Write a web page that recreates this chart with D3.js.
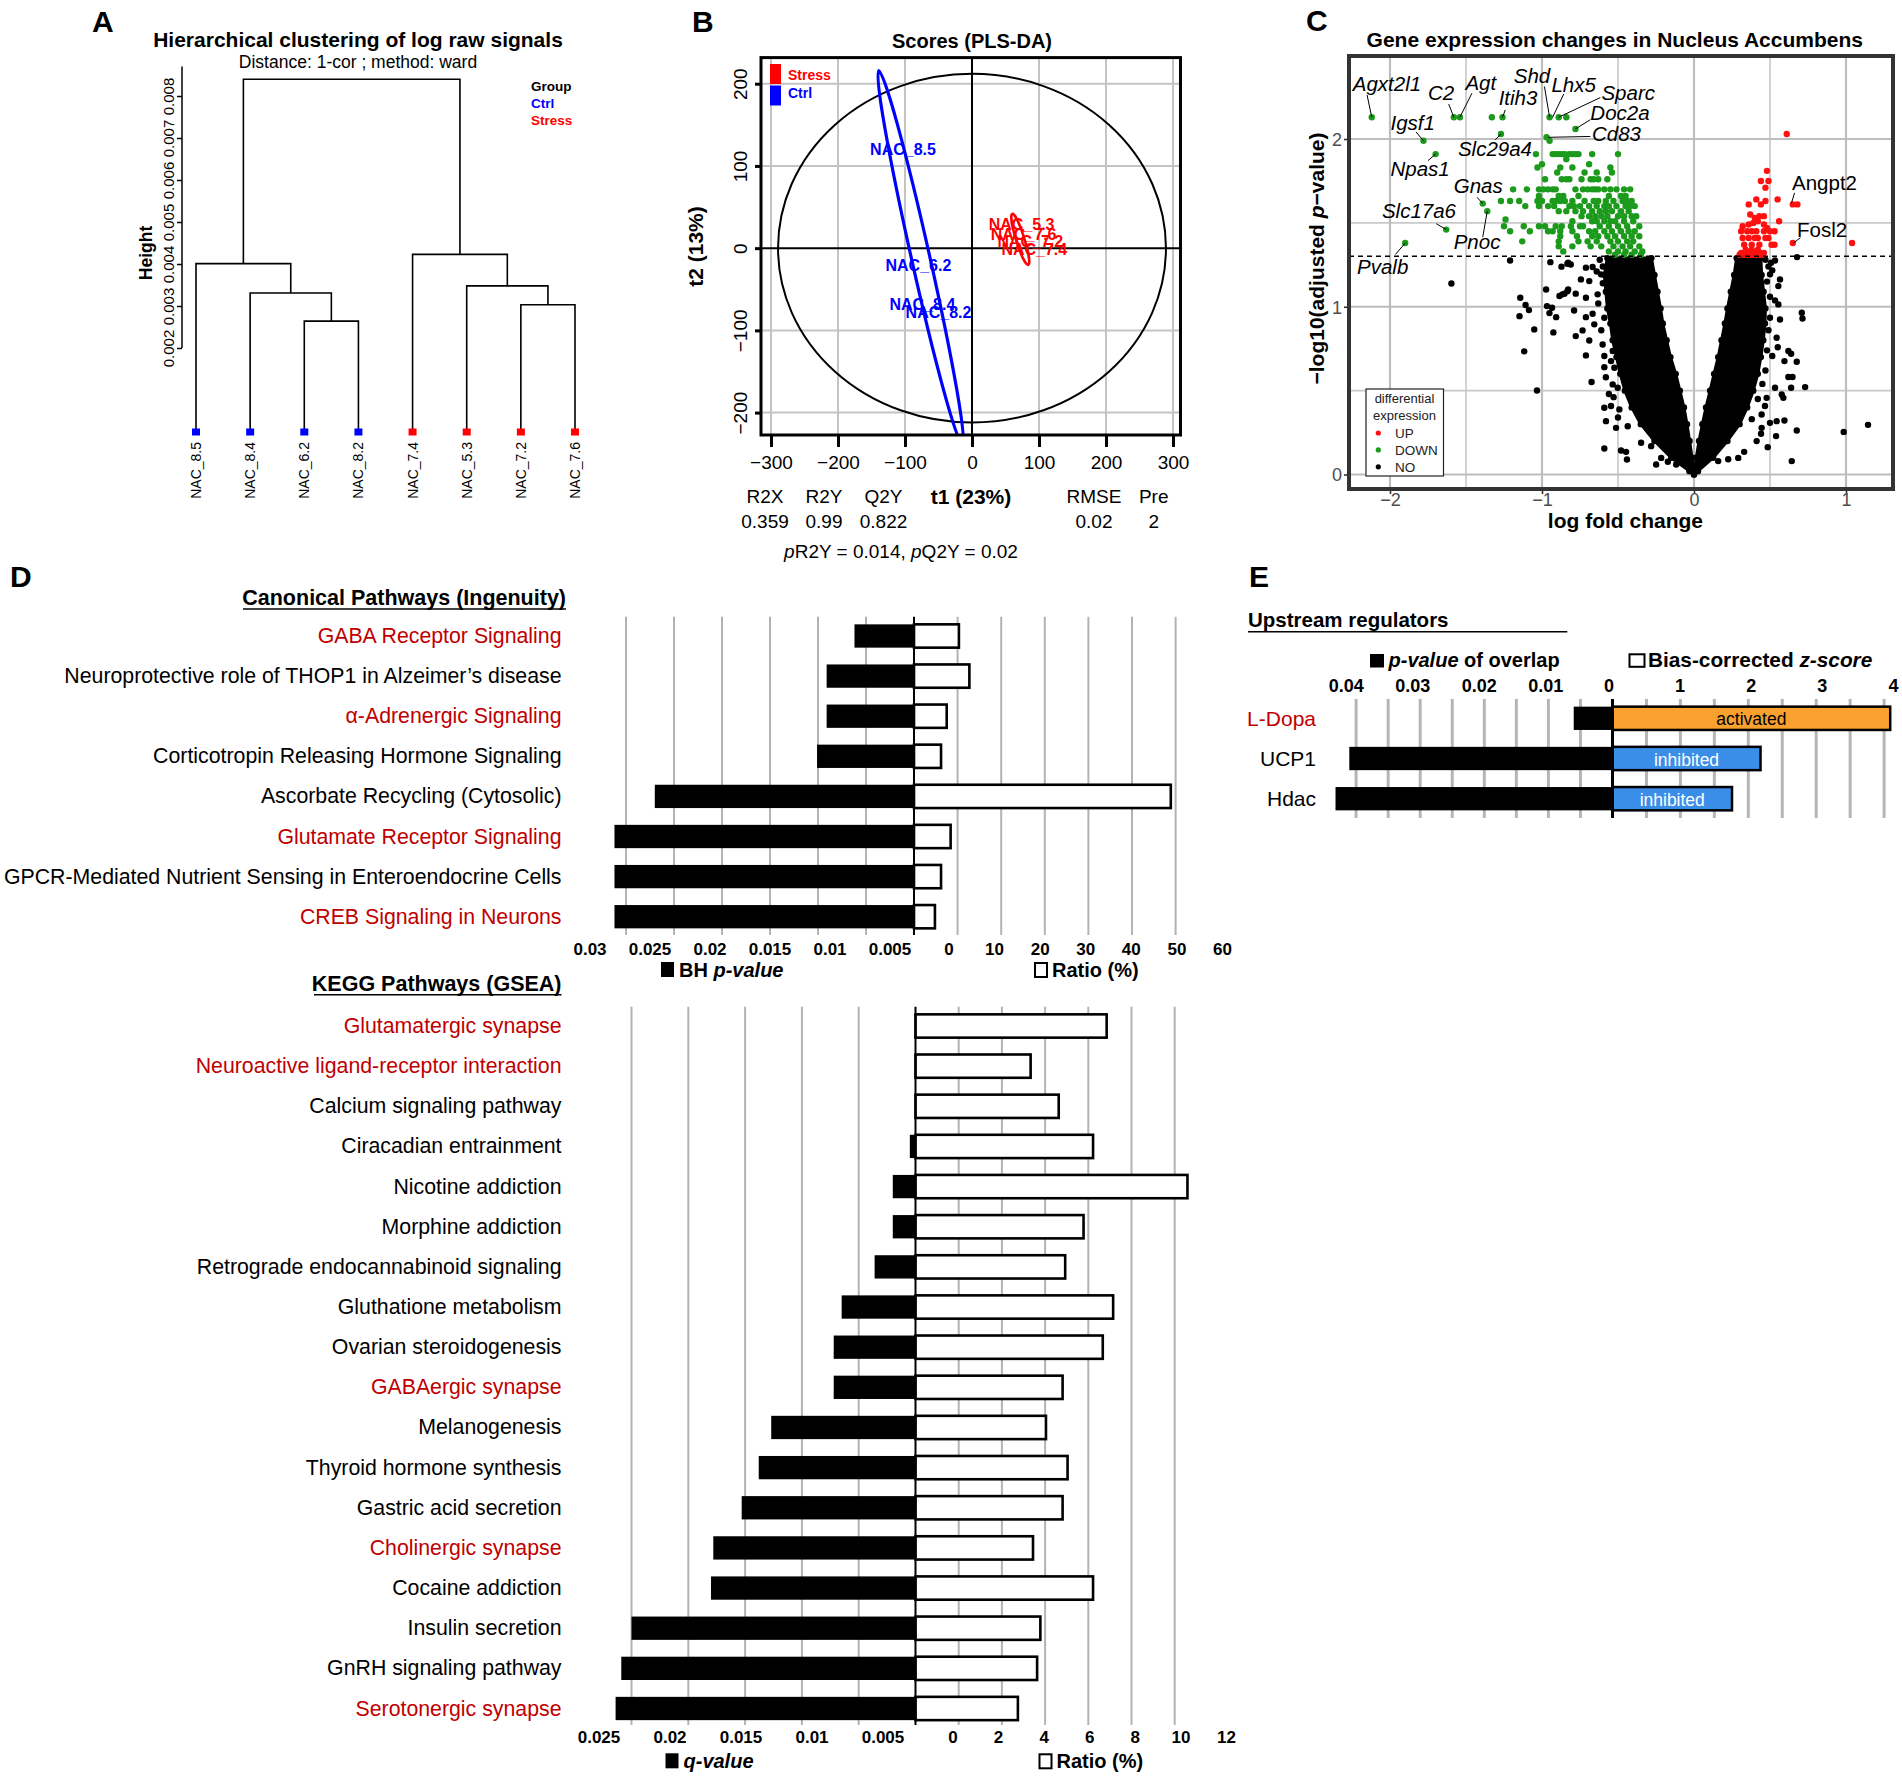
<!DOCTYPE html>
<html>
<head>
<meta charset="utf-8">
<title>Figure</title>
<script src="https://cdn.jsdelivr.net/npm/d3@7/dist/d3.min.js"></script>
<style>
html,body{margin:0;padding:0;background:#ffffff;}
svg{display:block;}
text{font-family:"Liberation Sans",Arial,Helvetica,sans-serif;}
</style>
</head>
<body>
<svg id="fig" width="1902" height="1781" viewBox="0 0 1902 1781"></svg>
<script>
// ================= DATA =================
// ---- Panel A : dendrogram ----
const dendroLeaves = ["NAC_8.5","NAC_8.4","NAC_6.2","NAC_8.2","NAC_7.4","NAC_5.3","NAC_7.2","NAC_7.6"];
const dendroGroups = ["Ctrl","Ctrl","Ctrl","Ctrl","Stress","Stress","Stress","Stress"];
const dendroMerges = [            // [left, right, height]; merges named m1..m7 in order
  ["NAC_6.2","NAC_8.2",0.00264],
  ["NAC_8.4","m1",0.00331],
  ["NAC_8.5","m2",0.00401],
  ["NAC_7.2","NAC_7.6",0.00303],
  ["NAC_5.3","m4",0.00348],
  ["NAC_7.4","m5",0.00423],
  ["m3","m6",0.00840]
];
const dendroTicks = [0.002,0.003,0.004,0.005,0.006,0.007,0.008];
const groupNames = ["Ctrl","Stress"];

// ---- Panel B : PLS-DA scores ----
const plsSamples = ["NAC_8.5","NAC_6.2","NAC_8.4","NAC_8.2","NAC_5.3","NAC_7.6","NAC_7.2","NAC_7.4"];
const plsGroup   = ["Ctrl","Ctrl","Ctrl","Ctrl","Stress","Stress","Stress","Stress"];
const plsT1      = [-103,-80,-74,-50,74,77,87,93];
const plsT2      = [119.5,-20.7,-68,-78,29,17,8,-2];
const plsTicksX  = [-300,-200,-100,0,100,200,300];
const plsTicksY  = [-200,-100,0,100,200];
const plsEllipseCtrl   = {center:[-76.6,-11.8], top:[-139.2,215.8], halfWidth:14};
const plsEllipseStress = {center:[72,10.7], top:[60.1,41.7], halfWidth:6.5};
const plsHotelling = [289.5,212];
const plsStatNames  = ["R2X","R2Y","Q2Y","RMSE","Pre"];
const plsStatValues = ["0.359","0.99","0.822","0.02","2"];

// ---- Panel C : volcano ----
const volcanoXTicks = [-2,-1,0,1];
const volcanoYTicks = [0,1,2];
const volcanoThreshold = 1.301;
const volcanoGreenRows = [
  [2.13,[-2.12,-1.58,-1.54,-1.33,-1.26,-0.95,-0.89,-0.84]],
  [2.06,[-0.78]],[2.03,[-1.27]],[2.01,[-0.97]],[1.99,[-1.78,-0.95]],
  [1.91,[-1.70,-1.04,-0.93,-0.91,-0.89,-0.87,-0.85,-0.82,-0.80,-0.78,-0.76,-0.67,-0.50]],
  [1.88,[-0.84]],
  [1.85,[-1.00,-0.69]],
  [1.83,[-1.03,-0.88,-0.80,-0.55]],
  [1.80,[-0.90,-0.72,-0.64,-0.54]],
  [1.76,[-0.98,-0.87,-0.84,-0.82,-0.74,-0.68,-0.66,-0.63,-0.57]],
  [1.70,[-1.19,-1.10,-1.02,-0.99,-0.96,-0.93,-0.91,-0.78,-0.73,-0.70,-0.67,-0.65,-0.63,-0.59,-0.55,-0.51,-0.46,-0.42]],
  [1.66,[-1.02,-0.89,-0.86,-0.76,-0.56,-0.48,-0.45]],
  [1.63,[-1.27,-1.21,-1.15,-1.03,-1.00,-0.93,-0.91,-0.88,-0.85,-0.80,-0.72,-0.66,-0.63,-0.58,-0.53,-0.47,-0.44,-0.41]],
  [1.615,[-1.39]],
  [1.60,[-1.11,-1.02,-0.96,-0.92,-0.82,-0.79,-0.75,-0.69,-0.64,-0.59,-0.56,-0.51,-0.45,-0.42,-0.39]],
  [1.57,[-1.36,-0.89,-0.84,-0.78,-0.73,-0.67,-0.62,-0.58,-0.54,-0.48,-0.43]],
  [1.54,[-0.74,-0.69,-0.65,-0.61,-0.57,-0.50,-0.46,-0.41,-0.38]],
  [1.52,[-1.24]],
  [1.51,[-0.80,-0.67,-0.64,-0.59,-0.55,-0.52,-0.46,-0.40]],
  [1.48,[-1.25,-1.12,-1.02,-0.98,-0.91,-0.87,-0.81,-0.75,-0.73,-0.62,-0.56,-0.50,-0.44,-0.36]],
  [1.46,[-1.63]],
  [1.45,[-1.21,-1.08,-0.96,-0.93,-0.88,-0.80,-0.69,-0.65,-0.59,-0.54,-0.48,-0.43,-0.39]],
  [1.42,[-0.88,-0.77,-0.67,-0.63,-0.57,-0.52,-0.46,-0.41,-0.36]],
  [1.39,[-1.13,-0.89,-0.76,-0.70,-0.64,-0.55,-0.50,-0.44,-0.40]],
  [1.38,[-1.90]],
  [1.36,[-0.89,-0.80,-0.68,-0.61,-0.53,-0.47,-0.42,-0.36]],
  [1.33,[-0.86,-0.56,-0.50,-0.45,-0.39,-0.34]],
  [1.31,[-0.52,-0.46,-0.41,-0.35]]
];
const volcanoRedRows = [
  [2.03,[0.61]],[1.81,[0.48]],[1.75,[0.44,0.49]],[1.71,[0.47]],
  [1.64,[0.41,0.55]],[1.63,[0.47]],[1.61,[0.36,0.44,0.65,0.68]],
  [1.55,[0.37]],[1.54,[0.43,0.46]],[1.53,[0.40]],[1.51,[0.42,0.56]],[1.50,[0.39]],
  [1.49,[0.36,0.46]],[1.48,[0.32]],[1.47,[0.48]],
  [1.45,[0.31,0.35,0.38,0.41,0.46,0.50,0.53]],
  [1.41,[0.32,0.36,0.40,0.42,0.47,0.49]],
  [1.38,[0.65,1.04]],
  [1.37,[0.33,0.38,0.43,0.51,0.53]],
  [1.34,[0.34,0.38,0.42]],
  [1.32,[0.31,0.36,0.40,0.44,0.46]],
  [1.31,[0.30,0.33,0.35,0.37,0.39,0.41,0.43,0.45]]
];
const volcanoBlack = [
  [-0.833,1.256],[-0.811,1.252],[-0.711,1.233],[-0.667,1.237],[-0.744,1.163],[-0.689,1.153],[-0.612,1.193],
  [-0.833,1.093],[-0.778,1.078],[-0.866,1.074],[-0.711,1.054],[-0.634,1.074],[-0.789,0.978],[-0.667,0.958],
  [-0.711,0.938],[-0.590,0.934],[-0.733,0.859],[-0.656,0.895],[-0.778,0.825],[-0.689,0.799],[-0.601,0.775],
  [-0.535,0.736],[-0.711,0.710],[-0.590,0.706],[-0.480,0.692],[-0.546,0.676],[-0.590,0.640],[-0.524,0.636],
  [-0.674,0.551],[-0.535,0.537],[-0.502,0.517],[-0.529,0.461],[-0.590,0.398],[-0.546,0.408],[-0.491,0.388],
  [-0.579,0.318],[-0.513,0.278],[-0.436,0.288],[-0.590,0.155],[-0.480,0.143],[-0.447,0.135],[-0.441,0.089],
  [-0.348,0.189],[-0.282,0.169],[-0.249,0.060],[-0.216,0.099],[-0.172,0.076],[-0.117,0.060],
  [-0.62,1.28],[-0.60,1.24],[-0.64,1.21],[-0.60,1.14],[-0.63,1.02],[-0.61,0.86],[-0.58,0.58],[-0.56,0.48],[-0.50,0.34],
  [-1.21,1.276],[-1.596,1.139],[-0.945,1.266],[-0.872,1.239],[-0.828,1.262],[-1.143,1.054],[-1.108,1.010],
  [-1.086,0.980],[-1.148,0.944],[-1.051,0.865],[-1.117,0.734],[-1.033,0.501],[-0.973,1.103],[-0.967,1.004],
  [-0.934,0.994],[-0.951,0.962],[-0.907,0.938],[-0.925,0.847],[-0.885,1.064],[-0.852,1.078],[-0.828,1.103],
  [0.507,1.262],[0.533,1.276],[0.500,1.193],[0.515,1.217],[0.566,1.163],[0.555,1.123],[0.533,1.038],
  [0.566,0.924],[0.500,0.934],[0.555,1.014],[0.709,0.964],[0.714,0.930],[0.544,0.815],[0.551,0.759],
  [0.621,0.736],[0.639,0.720],[0.676,0.672],[0.595,0.676],[0.515,0.706],[0.621,0.581],[0.648,0.581],
  [0.731,0.521],[0.639,0.517],[0.577,0.477],[0.588,0.457],[0.533,0.517],[0.595,0.322],[0.544,0.318],
  [0.500,0.308],[0.445,0.278],[0.441,0.243],[0.412,0.199],[0.485,0.163],[0.540,0.229],[0.676,0.262],
  [0.643,0.080],[0.985,0.254],[1.145,0.296],[0.678,1.296],[0.445,0.358],[0.467,0.408],[0.478,0.457],
  [0.225,0.091],[0.291,0.099],[0.330,0.135],[0.159,0.080],
  [0.47,1.28],[0.49,1.24],[0.48,1.15],[0.50,1.06],[0.49,0.86],[0.48,0.74],[0.47,0.62],[0.45,0.54],[0.42,0.45],[0.38,0.33]
];
// dense core of non-significant genes (outline of the solid V)
const vLeftOuter  = [[-0.57,1.29],[-0.59,1.19],[-0.58,1.09],[-0.57,0.99],[-0.55,0.90],[-0.535,0.80],[-0.51,0.70],[-0.485,0.60],[-0.455,0.50],[-0.41,0.40],[-0.35,0.30],[-0.26,0.20],[-0.15,0.10],[-0.03,0.02],[0,0]];
const vLeftInner  = [[-0.28,1.29],[-0.26,1.19],[-0.24,1.09],[-0.22,0.99],[-0.205,0.90],[-0.18,0.80],[-0.155,0.70],[-0.12,0.60],[-0.093,0.50],[-0.066,0.40],[-0.046,0.30],[-0.029,0.20],[-0.013,0.10]];
const vRightInner = [[0.28,1.29],[0.264,1.19],[0.242,1.09],[0.22,0.99],[0.203,0.90],[0.181,0.80],[0.159,0.70],[0.132,0.60],[0.106,0.50],[0.079,0.40],[0.055,0.30],[0.033,0.20],[0.015,0.10]];
const vRightOuter = [[0.44,1.29],[0.445,1.19],[0.458,1.09],[0.47,0.99],[0.467,0.90],[0.456,0.80],[0.44,0.70],[0.42,0.60],[0.39,0.50],[0.35,0.40],[0.30,0.30],[0.22,0.20],[0.126,0.10],[0.026,0.02],[0,0]];
// gene labels: [name, labelX, labelY, lineFromX, lineFromY, pointX, pointY, italic]
const volcanoLabels = [
  ["Agxt2l1",-2.245,2.287,-2.151,2.263,-2.12,2.13,true],
  ["C2",-1.750,2.234,-1.614,2.208,-1.58,2.13,true],
  ["Agt",-1.504,2.293,-1.461,2.273,-1.54,2.13,true],
  ["Itih3",-1.285,2.204,-1.241,2.174,-1.26,2.13,true],
  ["Shd",-1.186,2.333,-0.984,2.313,-0.95,2.13,true],
  ["Lhx5",-0.938,2.279,-0.857,2.268,-0.93,2.13,true],
  ["Sparc",-0.609,2.234,-0.616,2.247,-0.89,2.13,true],
  ["Doc2a",-0.682,2.115,-0.682,2.115,-0.78,2.06,true],
  ["Cd83",-0.671,1.990,-0.682,2.015,-0.96,2.01,true],
  ["Igsf1",-1.997,2.055,-1.829,2.042,-1.78,1.99,true],
  ["Slc29a4",-1.553,1.897,-1.307,1.996,-1.27,2.03,true],
  ["Npas1",-1.997,1.778,-1.750,1.871,-1.70,1.91,true],
  ["Gnas",-1.581,1.679,-1.428,1.653,-1.39,1.615,true],
  ["Pnoc",-1.581,1.342,-1.390,1.415,-1.36,1.57,true],
  ["Slc17a6",-2.053,1.530,-1.695,1.495,-1.63,1.46,true],
  ["Pvalb",-2.217,1.193,-1.964,1.312,-1.90,1.38,true],
  ["Angpt2",0.645,1.694,0.662,1.679,0.64,1.615,false],
  ["Fosl2",0.678,1.417,0.700,1.411,0.655,1.38,false]
];
const volcanoLegend = ["UP","DOWN","NO"];

// ---- Panel D : pathways ----
const canonicalPathways = ["GABA Receptor Signaling","Neuroprotective role of THOP1 in Alzeimer’s disease","α-Adrenergic Signaling","Corticotropin Releasing Hormone Signaling","Ascorbate Recycling (Cytosolic)","Glutamate Receptor Signaling","GPCR-Mediated Nutrient Sensing in Enteroendocrine Cells","CREB Signaling in Neurons"];
const canonicalPvalue = [0.0062,0.0091,0.0091,0.0101,0.0270,0.0312,0.0312,0.0312];
const canonicalRatio  = [10.3,12.7,7.5,6.2,58.9,8.4,6.2,4.8];
const canonicalNeuro  = [true,false,true,false,false,true,false,true];
const canonicalPTicks = [0.03,0.025,0.02,0.015,0.01,0.005];
const canonicalRTicks = [0,10,20,30,40,50,60];

const keggPathways = ["Glutamatergic synapse","Neuroactive ligand-receptor interaction","Calcium signaling pathway","Ciracadian entrainment","Nicotine addiction","Morphine addiction","Retrograde endocannabinoid signaling","Gluthatione metabolism","Ovarian steroidogenesis","GABAergic synapse","Melanogenesis","Thyroid hormone synthesis","Gastric acid secretion","Cholinergic synapse","Cocaine addiction","Insulin secretion","GnRH signaling pathway","Serotonergic synapse"];
const keggQvalue = [0,0,0,0.0005,0.0020,0.0020,0.0036,0.0065,0.0072,0.0072,0.0127,0.0138,0.0153,0.0178,0.0180,0.0250,0.0259,0.0264];
const keggRatio  = [8.85,5.33,6.63,8.22,12.59,7.78,6.93,9.15,8.67,6.81,6.04,7.04,6.81,5.44,8.22,5.78,5.63,4.74];
const keggNeuro  = [true,true,false,false,false,false,false,false,false,true,false,false,false,true,false,false,false,true];
const keggQTicks = [0.025,0.02,0.015,0.01,0.005];
const keggRTicks = [0,2,4,6,8,10,12];

// ---- Panel E : upstream regulators ----
const regulators   = ["L-Dopa","UCP1","Hdac"];
const regPvalue    = [0.00605,0.04106,0.04321];
const regZscore    = [4.09,2.18,1.76];
const regState     = ["activated","inhibited","inhibited"];
const regPTicks    = [0.04,0.03,0.02,0.01];
const regZTicks    = [0,1,2,3,4];

// ================= DRAW =================
const svg = d3.select("#fig");
svg.append("rect").attr("width",1902).attr("height",1781).attr("fill","#ffffff");
const RED_TXT = "#c00000";

function T(parent, x, y, str, size, opt) {
  opt = opt || {};
  const t = parent.append("text").attr("x", x).attr("y", y).attr("font-size", size).text(str);
  if (opt.weight) t.attr("font-weight", opt.weight);
  if (opt.anchor) t.attr("text-anchor", opt.anchor);
  t.attr("fill", opt.fill || "#000");
  if (opt.style) t.attr("font-style", opt.style);
  if (opt.baseline) t.attr("dominant-baseline", opt.baseline);
  return t;
}
function RT(parent, x, y, str, size, opt) { // text rotated -90 around (x,y)
  const g = parent.append("g").attr("transform", `translate(${x},${y}) rotate(-90)`);
  return T(g, 0, 0, str, size, opt);
}

// ---------- Panel A ----------
(function(){
  const g = svg.append("g");
  T(g, 92, 32, "A", 30, {weight:"bold"});
  T(g, 358, 47, "Hierarchical clustering of log raw signals", 21, {weight:"bold", anchor:"middle"});
  T(g, 358, 68, "Distance: 1-cor ; method: ward", 17.5, {anchor:"middle"});
  const y = d3.scaleLinear().domain([0, 0.008]).range([432, 96]);
  const x = d3.scalePoint().domain(dendroLeaves).range([196, 575]);
  const ax = g.append("g").attr("transform","translate(182,0)")
    .call(d3.axisLeft(y).tickValues(dendroTicks).tickSize(5).tickFormat(d3.format(".3f")));
  ax.select(".domain").remove();
  ax.append("line").attr("y1", y(0.002)).attr("y2", y(0.0087)).attr("stroke","#000").attr("stroke-width",1.5);
  ax.selectAll(".tick line").attr("stroke","#000").attr("stroke-width",1.5);
  ax.selectAll(".tick text").attr("transform","rotate(-90)").attr("x",0).attr("y",-8).attr("dy",null)
    .attr("text-anchor","middle").attr("font-size",15).attr("fill","#000");
  RT(g, 152, 253, "Height", 17.5, {weight:"bold", anchor:"middle"});
  const pos = {};
  dendroLeaves.forEach(l => pos[l] = {x: x(l), h: 0});
  dendroMerges.forEach((m, i) => {
    const a = pos[m[0]], b = pos[m[1]];
    pos["m" + (i + 1)] = {x: (a.x + b.x) / 2, h: m[2]};
    g.append("path")
      .attr("d", `M${a.x},${y(a.h)}V${y(m[2])}H${b.x}V${y(b.h)}`)
      .attr("fill","none").attr("stroke","#000").attr("stroke-width",1.6);
  });
  const col = d3.scaleOrdinal().domain(groupNames).range(["#0000ff","#ff0000"]);
  dendroLeaves.forEach((l, i) => {
    g.append("rect").attr("x", x(l) - 4).attr("y", y(0) - 3.5).attr("width", 8).attr("height", 7)
      .attr("fill", col(dendroGroups[i]));
    RT(g, x(l) + 5, 442, l, 14, {anchor:"end"});
  });
  T(g, 531, 91, "Group", 13.5, {weight:"bold"});
  groupNames.forEach((gn, i) => T(g, 531, 108 + i * 17, gn, 13.5, {weight:"bold", fill: col(gn)}));
})();

// ---------- Panel B ----------
(function(){
  const g = svg.append("g");
  const x = d3.scaleLinear().domain([-300, 300]).range([771, 1173]);
  const y = d3.scaleLinear().domain([-200, 200]).range([412.6, 83.7]);
  const box = {x0: 761, x1: 1180.5, y0: 57.6, y1: 435};
  T(g, 692, 32, "B", 30, {weight:"bold"});
  T(g, 972, 48, "Scores (PLS-DA)", 20, {weight:"bold", anchor:"middle"});
  svg.append("defs").append("clipPath").attr("id","clipB").append("rect")
    .attr("x", box.x0).attr("y", box.y0).attr("width", box.x1 - box.x0).attr("height", box.y1 - box.y0);
  const inner = g.append("g").attr("clip-path","url(#clipB)");
  plsTicksX.filter(d => d !== 0).forEach(d => inner.append("line").attr("x1", x(d)).attr("x2", x(d))
    .attr("y1", box.y0).attr("y2", box.y1).attr("stroke","#c4c4c4").attr("stroke-width",2));
  plsTicksY.filter(d => d !== 0).forEach(d => inner.append("line").attr("y1", y(d)).attr("y2", y(d))
    .attr("x1", box.x0).attr("x2", box.x1).attr("stroke","#c4c4c4").attr("stroke-width",2));
  inner.append("line").attr("x1", x(0)).attr("x2", x(0)).attr("y1", box.y0).attr("y2", box.y1).attr("stroke","#000").attr("stroke-width",2);
  inner.append("line").attr("y1", y(0)).attr("y2", y(0)).attr("x1", box.x0).attr("x2", box.x1).attr("stroke","#000").attr("stroke-width",2);
  inner.append("ellipse").attr("cx", x(0)).attr("cy", y(0))
    .attr("rx", x(plsHotelling[0]) - x(0)).attr("ry", y(0) - y(plsHotelling[1]))
    .attr("fill","none").attr("stroke","#000").attr("stroke-width",2);
  function ell(e, color, w) {
    const cx = x(e.center[0]), cy = y(e.center[1]);
    const dx = x(e.top[0]) - cx, dy = y(e.top[1]) - cy;
    const ang = Math.atan2(dy, dx);
    const rx = Math.hypot(dx, dy);
    const ry = (x(e.halfWidth) - x(0)) * Math.abs(Math.sin(ang));
    inner.append("ellipse").attr("cx", 0).attr("cy", 0).attr("rx", rx).attr("ry", ry)
      .attr("transform", `translate(${cx},${cy}) rotate(${ang * 180 / Math.PI})`)
      .attr("fill","none").attr("stroke", color).attr("stroke-width", w);
  }
  ell(plsEllipseCtrl, "#0000ff", 3.2);
  ell(plsEllipseStress, "#ff0000", 2.5);
  const col = d3.scaleOrdinal().domain(groupNames).range(["#0000ff","#ff0000"]);
  plsSamples.forEach((s, i) => T(inner, x(plsT1[i]), y(plsT2[i]), s, 16,
    {weight:"bold", anchor:"middle", baseline:"central", fill: col(plsGroup[i])}));
  g.append("rect").attr("x", box.x0).attr("y", box.y0).attr("width", box.x1 - box.x0).attr("height", box.y1 - box.y0)
    .attr("fill","none").attr("stroke","#000").attr("stroke-width",3);
  // legend
  g.append("rect").attr("x",770).attr("y",64).attr("width",11).attr("height",20).attr("fill","#ff0000");
  g.append("rect").attr("x",770).attr("y",85.5).attr("width",11).attr("height",20).attr("fill","#0000ff");
  T(g, 788, 80, "Stress", 14, {weight:"bold", fill:"#ff0000"});
  T(g, 788, 98, "Ctrl", 14, {weight:"bold", fill:"#0000ff"});
  // axes
  const axb = g.append("g").attr("transform", `translate(0,${box.y1})`)
    .call(d3.axisBottom(x).tickValues(plsTicksX).tickSize(12).tickFormat(d3.format("d")));
  axb.select(".domain").remove();
  axb.selectAll(".tick line").attr("stroke","#000").attr("stroke-width",3);
  axb.selectAll(".tick text").attr("y", 33.5).attr("dy", null).attr("font-size",19).attr("fill","#000");
  const axl = g.append("g").attr("transform", `translate(${box.x0},0)`)
    .call(d3.axisLeft(y).tickValues(plsTicksY).tickSize(6).tickFormat(d3.format("d")));
  axl.select(".domain").remove();
  axl.selectAll(".tick line").attr("stroke","#000").attr("stroke-width",3);
  axl.selectAll(".tick text").attr("transform","rotate(-90)").attr("x",0).attr("y",-14).attr("dy",null)
    .attr("text-anchor","middle").attr("font-size",19).attr("fill","#000");
  RT(g, 703, 246.5, "t2 (13%)", 21, {weight:"bold", anchor:"middle"});
  T(g, 971, 504, "t1 (23%)", 21, {weight:"bold", anchor:"middle"});
  const statPos = [765, 824, 883.5, 1094, 1153.7];
  plsStatNames.forEach((n, i) => {
    T(g, statPos[i], 502.6, n, 19, {anchor:"middle"});
    T(g, statPos[i], 528, plsStatValues[i], 19, {anchor:"middle"});
  });
  const tp = T(g, 901, 557.7, "", 19, {anchor:"middle"});
  tp.append("tspan").attr("font-style","italic").text("p");
  tp.append("tspan").text("R2Y = 0.014, ");
  tp.append("tspan").attr("font-style","italic").text("p");
  tp.append("tspan").text("Q2Y = 0.02");
})();

// ---------- Panel C ----------
(function(){
  const g = svg.append("g");
  const x = d3.scaleLinear().domain([-2, 1]).range([1390, 1846]);
  const y = d3.scaleLinear().domain([0, 2]).range([474.5, 139]);
  const box = {x0: 1349, x1: 1893, y0: 56, y1: 489};
  T(g, 1306, 31, "C", 30, {weight:"bold"});
  T(g, 1614.8, 46.7, "Gene expression changes in Nucleus Accumbens", 21, {weight:"bold", anchor:"middle"});
  svg.select("defs").append("clipPath").attr("id","clipC").append("rect")
    .attr("x", box.x0).attr("y", box.y0).attr("width", box.x1 - box.x0).attr("height", box.y1 - box.y0);
  const inner = g.append("g").attr("clip-path","url(#clipC)");
  const minorX = [-1.5,-0.5,0.5], minorY = [0.5,1.5];
  minorX.forEach(d => inner.append("line").attr("x1",x(d)).attr("x2",x(d)).attr("y1",box.y0).attr("y2",box.y1).attr("stroke","#c8c8c8").attr("stroke-width",1.6));
  minorY.forEach(d => inner.append("line").attr("y1",y(d)).attr("y2",y(d)).attr("x1",box.x0).attr("x2",box.x1).attr("stroke","#c8c8c8").attr("stroke-width",1.6));
  volcanoXTicks.forEach(d => inner.append("line").attr("x1",x(d)).attr("x2",x(d)).attr("y1",box.y0).attr("y2",box.y1).attr("stroke","#bdbdbd").attr("stroke-width",2.2));
  volcanoYTicks.forEach(d => inner.append("line").attr("y1",y(d)).attr("y2",y(d)).attr("x1",box.x0).attr("x2",box.x1).attr("stroke","#bdbdbd").attr("stroke-width",2.2));
  const R = 3.2;
  // dense core of NO genes
  const line = d3.line().x(d => x(d[0])).y(d => y(d[1]));
  const leftPoly = vLeftOuter.concat(vLeftInner.slice().reverse());
  const rightPoly = vRightInner.concat(vRightOuter.slice().reverse());
  [leftPoly, rightPoly].forEach(p => inner.append("path").attr("d", line(p) + "Z")
    .attr("fill","#000").attr("stroke","#000").attr("stroke-width",3).attr("stroke-linejoin","round"));
  const blackPts = volcanoBlack.concat(vLeftOuter, vLeftInner, vRightInner, vRightOuter);
  inner.selectAll("circle.no").data(blackPts).join("circle").attr("class","no")
    .attr("cx", d => x(d[0])).attr("cy", d => y(d[1])).attr("r", R).attr("fill","#000");
  const flat = rows => rows.flatMap(r => r[1].map(v => [v, r[0]]));
  inner.selectAll("circle.dn").data(flat(volcanoGreenRows)).join("circle").attr("class","dn")
    .attr("cx", d => x(d[0])).attr("cy", d => y(d[1])).attr("r", R).attr("fill","#1c9a1c");
  inner.selectAll("circle.up").data(flat(volcanoRedRows)).join("circle").attr("class","up")
    .attr("cx", d => x(d[0])).attr("cy", d => y(d[1])).attr("r", R).attr("fill","#ff1010");
  inner.append("line").attr("x1",box.x0).attr("x2",box.x1).attr("y1",y(volcanoThreshold)).attr("y2",y(volcanoThreshold))
    .attr("stroke","#000").attr("stroke-width",1.3).attr("stroke-dasharray","5,4");
  // labels
  volcanoLabels.forEach(l => {
    inner.append("line").attr("x1", x(l[3])).attr("y1", y(l[4])).attr("x2", x(l[5])).attr("y2", y(l[6]))
      .attr("stroke","#000").attr("stroke-width",1);
    T(inner, x(l[1]), y(l[2]), l[0], 20.5, {style: l[7] ? "italic" : null});
  });
  // legend
  g.append("rect").attr("x",1366).attr("y",389).attr("width",77.5).attr("height",87)
    .attr("fill","#fff").attr("stroke","#222").attr("stroke-width",1.2);
  T(g, 1404.5, 402.8, "differential", 13, {anchor:"middle", fill:"#222"});
  T(g, 1404.5, 419.8, "expression", 13, {anchor:"middle", fill:"#222"});
  const legCol = ["#ff1010","#1c9a1c","#000"];
  volcanoLegend.forEach((n, i) => {
    g.append("circle").attr("cx",1378.3).attr("cy", 433 + i * 16.9).attr("r",2.6).attr("fill", legCol[i]);
    T(g, 1395, 437.7 + i * 16.9, n, 13.5, {fill:"#222"});
  });
  g.append("rect").attr("x", box.x0).attr("y", box.y0).attr("width", box.x1 - box.x0).attr("height", box.y1 - box.y0)
    .attr("fill","none").attr("stroke","#333").attr("stroke-width",4);
  // axes
  const axb = g.append("g").attr("transform", `translate(0,${box.y1})`)
    .call(d3.axisBottom(x).tickValues(volcanoXTicks).tickSize(5).tickFormat(d => d < 0 ? "\u2212" + Math.abs(d) : String(d)));
  axb.select(".domain").remove();
  axb.selectAll(".tick line").attr("stroke","#333").attr("stroke-width",1.6);
  axb.selectAll(".tick text").attr("y", 17).attr("dy", null).attr("font-size",18).attr("fill","#4d4d4d");
  const axl = g.append("g").attr("transform", `translate(${box.x0},0)`)
    .call(d3.axisLeft(y).tickValues(volcanoYTicks).tickSize(5).tickFormat(d3.format("d")));
  axl.select(".domain").remove();
  axl.selectAll(".tick line").attr("stroke","#333").attr("stroke-width",1.6);
  axl.selectAll(".tick text").attr("x", -7).attr("dy","0.35em").attr("font-size",18).attr("fill","#4d4d4d");
  T(g, 1625.4, 527.7, "log fold change", 21, {weight:"bold", anchor:"middle"});
  const yt = RT(g, 1324, 258.5, "", 21, {weight:"bold", anchor:"middle"});
  yt.append("tspan").text("\u2212log10(adjusted ");
  yt.append("tspan").attr("font-style","italic").text("p");
  yt.append("tspan").text("\u2212value)");
})();

// ---------- Panel D ----------
function pathwayPanel(cfg) {
  const g = svg.append("g");
  const yP = d3.scalePoint().domain(cfg.cats).range(cfg.yRange);
  const pX = d3.scaleLinear().domain([0, cfg.pMax]).range([cfg.center, cfg.pEnd]);
  const rX = d3.scaleLinear().domain([0, cfg.rMax]).range([cfg.center, cfg.rEnd]);
  const pLab = d3.scaleLinear().domain(cfg.pLabDomain).range(cfg.pLabRange);
  const rLab = d3.scaleLinear().domain([0, cfg.rMax]).range(cfg.rLabRange);
  // title
  T(g, cfg.titleRight, cfg.titleY, cfg.title, 21.5, {weight:"bold", anchor:"end"});
  g.append("line").attr("x1", cfg.titleLeft).attr("x2", cfg.titleRight).attr("y1", cfg.titleY + 4).attr("y2", cfg.titleY + 4)
    .attr("stroke","#000").attr("stroke-width",1.6);
  // grid
  cfg.pTicks.forEach(d => g.append("line").attr("x1", pX(d)).attr("x2", pX(d)).attr("y1", cfg.gridTop).attr("y2", cfg.gridBottom)
    .attr("stroke","#b3b3b3").attr("stroke-width",2));
  cfg.rTicks.filter(d => d > 0).forEach(d => g.append("line").attr("x1", rX(d)).attr("x2", rX(d)).attr("y1", cfg.gridTop).attr("y2", cfg.gridBottom)
    .attr("stroke","#b3b3b3").attr("stroke-width",2));
  const bh = 23.3;
  cfg.cats.forEach((c, i) => {
    const yc = yP(c);
    if (cfg.pVals[i] > 0)
      g.append("rect").attr("x", pX(cfg.pVals[i])).attr("y", yc - bh / 2).attr("width", cfg.center - pX(cfg.pVals[i])).attr("height", bh).attr("fill","#000");
    g.append("rect").attr("x", cfg.center).attr("y", yc - bh / 2).attr("width", rX(cfg.rVals[i]) - cfg.center).attr("height", bh)
      .attr("fill","#fff").attr("stroke","#000").attr("stroke-width",2.6);
    T(g, 561.5, yc, c, 21.3, {anchor:"end", baseline:"central", fill: cfg.neuro[i] ? RED_TXT : "#000"});
  });
  g.append("line").attr("x1", cfg.center).attr("x2", cfg.center).attr("y1", cfg.gridTop).attr("y2", cfg.gridBottom)
    .attr("stroke","#000").attr("stroke-width",2);
  // tick labels
  cfg.pTicks.forEach(d => T(g, pLab(d), cfg.tickY, String(d), 17, {weight:"bold", anchor:"middle"}));
  cfg.rTicks.forEach(d => T(g, rLab(d), cfg.tickY, String(d), 17, {weight:"bold", anchor:"middle"}));
  // legend
  g.append("rect").attr("x", cfg.legP).attr("y", cfg.legY - 15).attr("width", 13).attr("height", 15).attr("fill","#000");
  const t1 = T(g, cfg.legP + 18, cfg.legY, "", 20, {weight:"bold"});
  cfg.legPText.forEach(s => t1.append("tspan").attr("font-style", s[1] ? "italic" : null).text(s[0]));
  g.append("rect").attr("x", cfg.legR + 1).attr("y", cfg.legY - 14).attr("width", 12).attr("height", 14)
    .attr("fill","#fff").attr("stroke","#000").attr("stroke-width",2);
  T(g, cfg.legR + 18, cfg.legY, "Ratio (%)", 20, {weight:"bold"});
}
T(svg, 10, 587, "D", 30, {weight:"bold"});
pathwayPanel({
  cats: canonicalPathways, pVals: canonicalPvalue, rVals: canonicalRatio, neuro: canonicalNeuro,
  yRange: [636, 916.7], center: 914, pMax: 0.03, pEnd: 626, rMax: 60, rEnd: 1175.6,
  pTicks: canonicalPTicks, rTicks: canonicalRTicks,
  pLabDomain: [0.03, 0.005], pLabRange: [590, 890], rLabRange: [949, 1222.5],
  gridTop: 616.7, gridBottom: 935, tickY: 955, legY: 977, legP: 661, legR: 1034,
  title: "Canonical Pathways (Ingenuity)", titleLeft: 243, titleRight: 566, titleY: 605,
  legPText: [["BH ", false], ["p-value", true]]
});
pathwayPanel({
  cats: keggPathways, pVals: keggQvalue, rVals: keggRatio, neuro: keggNeuro,
  yRange: [1026, 1708.5], center: 915.5, pMax: 0.025, pEnd: 631.5, rMax: 12, rEnd: 1174.7,
  pTicks: keggQTicks, rTicks: keggRTicks,
  pLabDomain: [0.025, 0.005], pLabRange: [599, 883], rLabRange: [953, 1226.5],
  gridTop: 1006.7, gridBottom: 1725, tickY: 1743.3, legY: 1768.3, legP: 665.5, legR: 1038.5,
  title: "KEGG Pathways (GSEA)", titleLeft: 314, titleRight: 561.5, titleY: 990.7,
  legPText: [["q-value", true]]
});

// ---------- Panel E ----------
(function(){
  const g = svg.append("g");
  const center = 1612.5;
  const pX = d3.scaleLinear().domain([0, 0.04]).range([center, 1356.1]);
  const zX = d3.scaleLinear().domain([0, 4]).range([center, 1884.1]);
  const pLab = d3.scaleLinear().domain([0.04, 0.01]).range([1346.3, 1545.8]);
  const zLab = d3.scaleLinear().domain([0, 4]).range([1609, 1893.4]);
  const yP = d3.scalePoint().domain(regulators).range([718.3, 798.7]);
  T(g, 1249, 587, "E", 30, {weight:"bold"});
  T(g, 1248, 626.7, "Upstream regulators", 20.5, {weight:"bold"});
  g.append("line").attr("x1",1248).attr("x2",1567.3).attr("y1",631.7).attr("y2",631.7).attr("stroke","#000").attr("stroke-width",1.6);
  g.append("rect").attr("x",1370).attr("y",654).attr("width",14).attr("height",13.5).attr("fill","#000");
  const t1 = T(g, 1388.5, 666.5, "", 20, {weight:"bold"});
  t1.append("tspan").attr("font-style","italic").text("p-value");
  t1.append("tspan").text(" of overlap");
  g.append("rect").attr("x",1629.5).attr("y",654.3).attr("width",15).attr("height",12.5).attr("fill","#fff").attr("stroke","#000").attr("stroke-width",2);
  const t2 = T(g, 1648, 666.5, "", 20.8, {weight:"bold"});
  t2.append("tspan").text("Bias-corrected ");
  t2.append("tspan").attr("font-style","italic").text("z-score");
  const gridTop = 699, gridBottom = 818;
  d3.range(1, 9).map(i => i * 0.005).forEach(d => g.append("line").attr("x1", pX(d)).attr("x2", pX(d))
    .attr("y1", gridTop).attr("y2", gridBottom).attr("stroke","#b5b5b5").attr("stroke-width",3));
  d3.range(1, 9).map(i => i * 0.5).forEach(d => g.append("line").attr("x1", zX(d)).attr("x2", zX(d))
    .attr("y1", gridTop).attr("y2", gridBottom).attr("stroke","#b5b5b5").attr("stroke-width",3));
  regPTicks.forEach(d => T(g, pLab(d), 691.7, String(d), 18, {weight:"bold", anchor:"middle"}));
  regZTicks.forEach(d => T(g, zLab(d), 691.7, String(d), 18, {weight:"bold", anchor:"middle"}));
  const bh = 23.3;
  const fillState = {activated:"#f8a12f", inhibited:"#3b8ee8"};
  const txtState = {activated:"#000", inhibited:"#fff"};
  regulators.forEach((r, i) => {
    const yc = yP(r);
    g.append("rect").attr("x", pX(regPvalue[i])).attr("y", yc - bh / 2).attr("width", center - pX(regPvalue[i])).attr("height", bh).attr("fill","#000");
    g.append("rect").attr("x", center).attr("y", yc - bh / 2).attr("width", zX(regZscore[i]) - center).attr("height", bh)
      .attr("fill", fillState[regState[i]]).attr("stroke","#000").attr("stroke-width",2.5);
    T(g, (center + zX(regZscore[i])) / 2, yc + 1, regState[i], 17.5, {anchor:"middle", baseline:"central", fill: txtState[regState[i]]});
    T(g, 1316, yc, r, 21, {anchor:"end", baseline:"central", fill: i === 0 ? RED_TXT : "#000"});
  });
  g.append("line").attr("x1", center).attr("x2", center).attr("y1", gridTop).attr("y2", gridBottom).attr("stroke","#000").attr("stroke-width",3);
})();
</script>
</body>
</html>
